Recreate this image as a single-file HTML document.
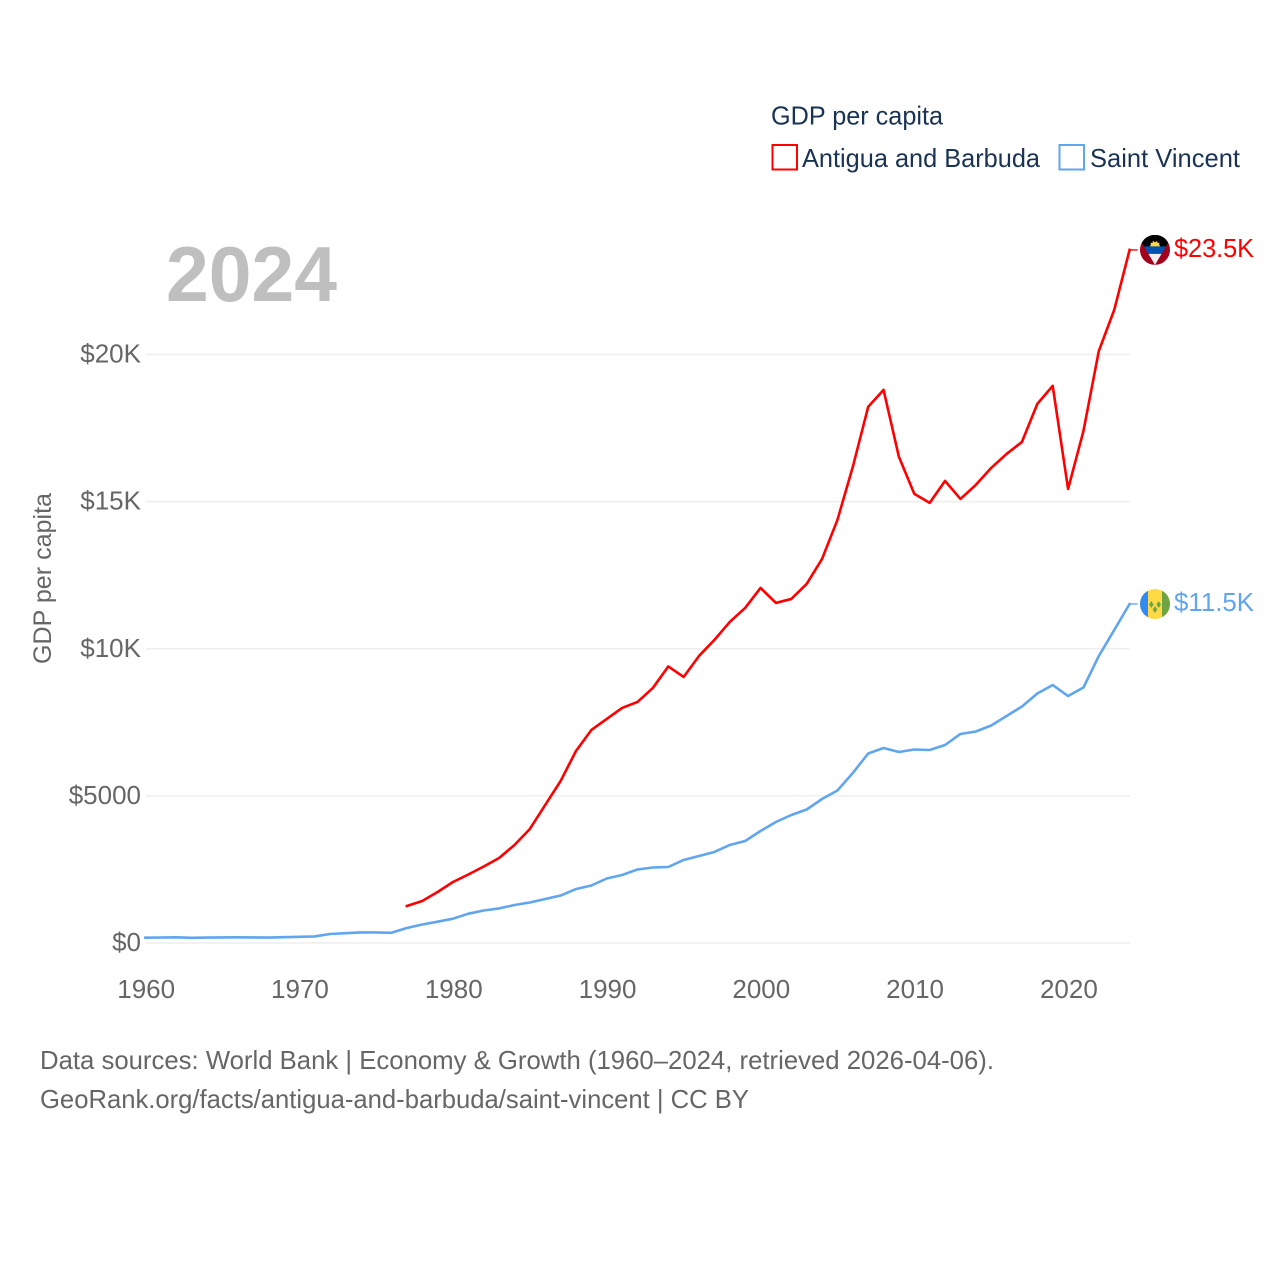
<!DOCTYPE html>
<html lang="en">
<head>
<meta charset="utf-8">
<title>GDP per capita: Antigua and Barbuda vs Saint Vincent</title>
<style>
html,body{margin:0;padding:0;background:#fff;}
svg{display:block;font-family:"Liberation Sans",Arial,sans-serif;}
</style>
</head>
<body>
<svg id="chart" xmlns="http://www.w3.org/2000/svg" width="1280" height="1280" viewBox="0 0 1280 1280">
  <defs>
    <clipPath id="flag-clip"><circle cx="0" cy="0" r="15"/></clipPath>
    <clipPath id="ag-v-clip"><polygon points="-16,-12 16,-12 0,15"/></clipPath>
  </defs>
  <rect x="0" y="0" width="1280" height="1280" fill="#ffffff"/>

  <g id="legend">
    <text x="771" y="124.5" font-size="26" fill="#1a3353" textLength="172" lengthAdjust="spacingAndGlyphs">GDP per capita</text>
    <g>
      <rect x="772.5" y="145" width="24.5" height="24.5" fill="none" stroke="#ff0000" stroke-width="2"/>
      <text x="802" y="167" font-size="26" fill="#1a3353" textLength="238" lengthAdjust="spacingAndGlyphs">Antigua and Barbuda</text>
    </g>
    <g>
      <rect x="1059.5" y="145" width="24.5" height="24.5" fill="none" stroke="#60a5f0" stroke-width="2"/>
      <text x="1090" y="167" font-size="26" fill="#1a3353" textLength="150" lengthAdjust="spacingAndGlyphs">Saint Vincent</text>
    </g>
  </g>

  <text x="166" y="301" font-size="78" font-weight="700" fill="#bfbfbf" textLength="171" lengthAdjust="spacingAndGlyphs">2024</text>

  <text transform="translate(51,664) rotate(-90)" x="0" y="0" font-size="25" fill="#666666" textLength="171" lengthAdjust="spacingAndGlyphs">GDP per capita</text>

  <g id="grid"></g>
  <g id="yticks"></g>
  <g id="xticks"></g>
  <g id="series"></g>

  <g id="flag-ag">
    <g clip-path="url(#flag-clip)">
      <rect x="-15" y="-15" width="30" height="30" fill="#a2001d"/>
      <g clip-path="url(#ag-v-clip)">
        <rect x="-16" y="-12" width="32" height="9" fill="#000000"/>
        <rect x="-16" y="-3.5" width="32" height="7.5" fill="#0052b4"/>
        <rect x="-16" y="4" width="32" height="12" fill="#f0f0f0"/>
      </g>
      <rect x="-15" y="-15" width="30" height="4" fill="#000000"/>
      <polygon points="-5,-3.5 -4,-6 -5,-7 -2.5,-7 -2,-9 0,-7.5 2,-9 2.5,-7 5,-7 4,-6 5,-3.5" fill="#ffda44"/>
    </g>
  </g>
  <g id="flag-vc">
    <g clip-path="url(#flag-clip)">
      <rect x="-15" y="-15" width="30" height="30" fill="#ffda44"/>
      <rect x="-15" y="-15" width="8" height="30" fill="#338af3"/>
      <rect x="7" y="-15" width="8" height="30" fill="#6da544"/>
      <polygon points="-3.7,-3 -1.4,0.5 -3.7,4 -6,0.5" fill="#6da544"/>
      <polygon points="3.7,-3 6,0.5 3.7,4 1.4,0.5" fill="#6da544"/>
      <polygon points="0,2 2.3,5.5 0,9 -2.3,5.5" fill="#6da544"/>
    </g>
  </g>

  <text id="value-ag" font-size="26" fill="#ff0000" textLength="80" lengthAdjust="spacingAndGlyphs"></text>
  <text id="value-vc" font-size="26" fill="#60a5f0" textLength="80" lengthAdjust="spacingAndGlyphs"></text>

  <g>
    <text x="40" y="1069" font-size="26" fill="#666666" textLength="954" lengthAdjust="spacingAndGlyphs">Data sources: World Bank | Economy &amp; Growth (1960–2024, retrieved 2026-04-06).</text>
    <text x="40" y="1108" font-size="26" fill="#666666" textLength="709" lengthAdjust="spacingAndGlyphs">GeoRank.org/facts/antigua-and-barbuda/saint-vincent | CC BY</text>
  </g>
</svg>
<script>
const firstYearAntigua = 1977;
const firstYearVincent = 1960;
const antiguaValues = [1258,1428,1734,2073,2328,2600,2889,3331,3875,4691,5506,6526,7240,7614,7988,8192,8668,9398,9041,9755,10299,10911,11387,12067,11557,11693,12203,13052,14378,16180,18219,18797,16519,15262,14956,15704,15092,15568,16145,16621,17029,18321,18933,15432,17403,20122,21516,23555];
const vincentValues = [180,187,194,177,184,190,194,190,184,197,211,224,306,333,360,360,347,510,629,724,826,996,1105,1176,1291,1376,1495,1614,1835,1954,2192,2311,2498,2566,2583,2821,2957,3093,3331,3466,3806,4112,4350,4537,4894,5183,5777,6440,6627,6491,6576,6559,6729,7103,7188,7392,7714,8037,8479,8768,8394,8683,9754,10637,11521];
const yTickValues = [0,5000,10000,15000,20000];
const yTickLabels = ['$0','$5000','$10K','$15K','$20K'];
const xTickValues = [1960,1970,1980,1990,2000,2010,2020];
const endLabels = ['$23.5K','$11.5K'];

const SVGNS = 'http://www.w3.org/2000/svg';
function xScale(year){ return 145.4 + (year - 1960) * (1129.6 - 145.4) / 64; }
function yScale(v){ return 943 - v * 588.5 / 20000; }
function make(tag, parentId){
  const el = document.createElementNS(SVGNS, tag);
  document.getElementById(parentId).appendChild(el);
  return el;
}

yTickValues.forEach(function(v, i){
  const line = make('line', 'grid');
  
  
  line.setAttribute('x1', 146);
  line.setAttribute('x2', 1130);
  line.setAttribute('y1', yScale(v));
  line.setAttribute('y2', yScale(v));
  line.setAttribute('stroke', '#eeeeee');
  line.setAttribute('stroke-width', '1.5');

  const label = make('text', 'yticks');
  
  
  label.setAttribute('x', 141);
  label.setAttribute('y', yScale(v) + 8);
  label.setAttribute('text-anchor', 'end');
  label.setAttribute('font-size', '26');
  label.setAttribute('fill', '#666666');
  label.textContent = yTickLabels[i];
});

xTickValues.forEach(function(year){
  const label = make('text', 'xticks');
  
  
  label.setAttribute('x', xScale(year) + 0.8);
  label.setAttribute('y', 998);
  label.setAttribute('text-anchor', 'middle');
  label.setAttribute('font-size', '26');
  label.setAttribute('fill', '#666666');
  label.textContent = String(year);
});

function pointsFor(values, startYear){
  return values.map(function(v, i){
    return xScale(startYear + i).toFixed(2) + ',' + yScale(v).toFixed(2);
  }).join(' ');
}

const vincentLine = make('polyline', 'series');


vincentLine.setAttribute('points', pointsFor(vincentValues, firstYearVincent));
vincentLine.setAttribute('fill', 'none');
vincentLine.setAttribute('stroke', '#60a5f0');
vincentLine.setAttribute('stroke-width', '2.6');
vincentLine.setAttribute('stroke-linejoin', 'round');
vincentLine.setAttribute('stroke-linecap', 'square');

const antiguaLine = make('polyline', 'series');


antiguaLine.setAttribute('points', pointsFor(antiguaValues, firstYearAntigua));
antiguaLine.setAttribute('fill', 'none');
antiguaLine.setAttribute('stroke', '#ff0000');
antiguaLine.setAttribute('stroke-width', '2.6');
antiguaLine.setAttribute('stroke-linejoin', 'round');
antiguaLine.setAttribute('stroke-linecap', 'square');

const lastAntigua = yScale(antiguaValues[antiguaValues.length - 1]);
const lastVincent = yScale(vincentValues[vincentValues.length - 1]);

const connectorA = make('line', 'series');


connectorA.setAttribute('x1', xScale(2024));
connectorA.setAttribute('x2', xScale(2024) + 8);
connectorA.setAttribute('y1', lastAntigua);
connectorA.setAttribute('y2', lastAntigua);
connectorA.setAttribute('stroke', '#ff0000');
connectorA.setAttribute('stroke-opacity', '0.75');
connectorA.setAttribute('stroke-width', '1.8');

const connectorV = make('line', 'series');


connectorV.setAttribute('x1', xScale(2024));
connectorV.setAttribute('x2', xScale(2024) + 8);
connectorV.setAttribute('y1', lastVincent);
connectorV.setAttribute('y2', lastVincent);
connectorV.setAttribute('stroke', '#60a5f0');
connectorV.setAttribute('stroke-opacity', '0.75');
connectorV.setAttribute('stroke-width', '1.8');

document.getElementById('flag-ag').setAttribute('transform', 'translate(1155,' + lastAntigua + ')');
document.getElementById('flag-vc').setAttribute('transform', 'translate(1155,' + lastVincent + ')');

const valueA = document.getElementById('value-ag');
valueA.setAttribute('x', 1174);
valueA.setAttribute('y', lastAntigua + 7);
valueA.textContent = endLabels[0];

const valueV = document.getElementById('value-vc');
valueV.setAttribute('x', 1174);
valueV.setAttribute('y', lastVincent + 7);
valueV.textContent = endLabels[1];
</script>
</body>
</html>
